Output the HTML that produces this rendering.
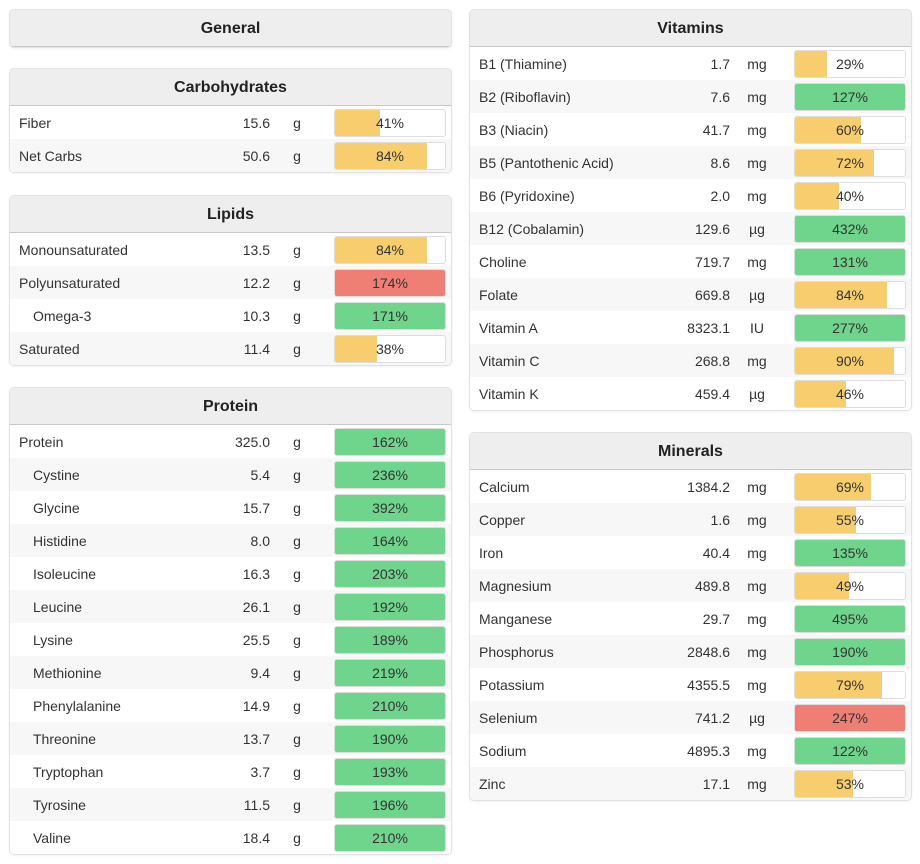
<!DOCTYPE html>
<html><head><meta charset="utf-8"><style>
body{margin:0;background:#fff;font-family:"Liberation Sans",sans-serif;color:#333;width:920px;height:864px;position:relative;overflow:hidden}
.panel{position:absolute;width:441px;border:1px solid #e2e2e2;border-radius:5px;background:#fff;overflow:hidden;box-shadow:0 1px 2px rgba(0,0,0,.06)}
.hdr{height:36px;line-height:37px;text-align:center;font-weight:bold;font-size:16px;background:#eeeeee;border-bottom:1px solid #c8c8c8;color:#222}
.row{height:33px;position:relative;font-size:14px;line-height:34px}
.row:nth-child(even){background:#f7f7f7}
.nm{position:absolute;left:9px}
.nm.ind{left:23px}
.val{position:absolute;right:181px;text-align:right}
.unit{position:absolute;left:270px;width:34px;text-align:center}
.bar{position:absolute;left:324px;top:3px;width:110px;height:26px;border:1px solid #ddd;border-radius:3px;background:#fff;overflow:hidden}
.fill{position:absolute;left:0;top:0;bottom:0}
.pct{position:absolute;left:0;right:0;top:0;line-height:27px;text-align:center;font-size:14px}
</style></head><body>
<div id="root"></div>
<script>
const panels=[
{n:'General',x:9,y:9,rows:[]},
{n:'Carbohydrates',x:9,y:68,rows:[['Fiber',15.6,'g',41,0],['Net Carbs',50.6,'g',84,0]]},
{n:'Lipids',x:9,y:195,rows:[['Monounsaturated',13.5,'g',84,0],['Polyunsaturated',12.2,'g',174,0,'r'],['Omega-3',10.3,'g',171,1],['Saturated',11.4,'g',38,0]]},
{n:'Protein',x:9,y:387,rows:[['Protein',325.0,'g',162,0],['Cystine',5.4,'g',236,1],['Glycine',15.7,'g',392,1],['Histidine',8.0,'g',164,1],['Isoleucine',16.3,'g',203,1],['Leucine',26.1,'g',192,1],['Lysine',25.5,'g',189,1],['Methionine',9.4,'g',219,1],['Phenylalanine',14.9,'g',210,1],['Threonine',13.7,'g',190,1],['Tryptophan',3.7,'g',193,1],['Tyrosine',11.5,'g',196,1],['Valine',18.4,'g',210,1]]},
{n:'Vitamins',x:469,y:9,rows:[['B1 (Thiamine)',1.7,'mg',29,0],['B2 (Riboflavin)',7.6,'mg',127,0],['B3 (Niacin)',41.7,'mg',60,0],['B5 (Pantothenic Acid)',8.6,'mg',72,0],['B6 (Pyridoxine)',2.0,'mg',40,0],['B12 (Cobalamin)',129.6,'µg',432,0],['Choline',719.7,'mg',131,0],['Folate',669.8,'µg',84,0],['Vitamin A',8323.1,'IU',277,0],['Vitamin C',268.8,'mg',90,0],['Vitamin K',459.4,'µg',46,0]]},
{n:'Minerals',x:469,y:432,rows:[['Calcium',1384.2,'mg',69,0],['Copper',1.6,'mg',55,0],['Iron',40.4,'mg',135,0],['Magnesium',489.8,'mg',49,0],['Manganese',29.7,'mg',495,0],['Phosphorus',2848.6,'mg',190,0],['Potassium',4355.5,'mg',79,0],['Selenium',741.2,'µg',247,0,'r'],['Sodium',4895.3,'mg',122,0],['Zinc',17.1,'mg',53,0]]}
];
const root=document.getElementById('root');
panels.forEach(p=>{
  const d=document.createElement('div');d.className='panel';
  
  
  d.style.left=p.x+'px';d.style.top=p.y+'px';
  const h=document.createElement('div');h.className='hdr';h.textContent=p.n;
  
  
  d.appendChild(h);
  const body=document.createElement('div');
  p.rows.forEach(r=>{
    const row=document.createElement('div');row.className='row';
    
    
    const col=r[5]==='r'?'#ef7f74':(r[3]>=100?'#6fd48c':'#f8cd6e');
    const w=Math.min(r[3],100);
    row.innerHTML=`<span class="nm${r[4]?' ind':''}">${r[0]}</span><span class="val">${r[1].toFixed(1)}</span><span class="unit">${r[2]}</span><div class="bar"><div class="fill" style="width:${w}%;background:${col}"></div><div class="pct">${r[3]}%</div></div>`;
    body.appendChild(row);
  });
  d.appendChild(body);
  root.appendChild(d);
});
</script>
</body></html>
